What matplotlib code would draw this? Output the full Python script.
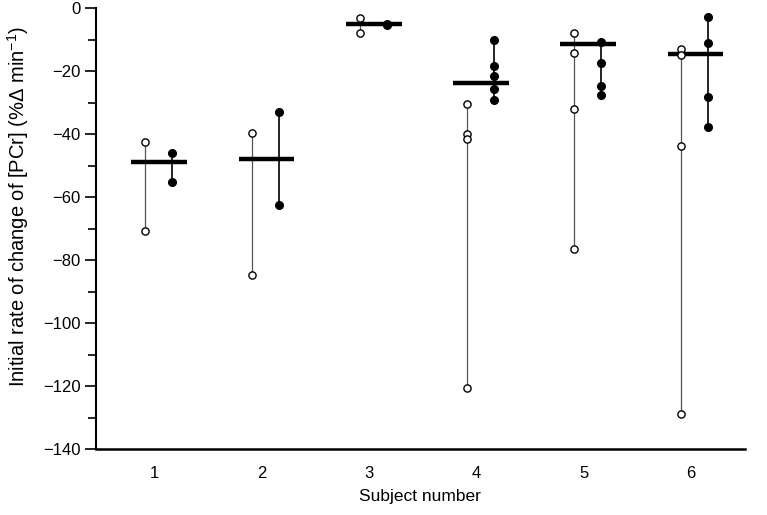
import matplotlib.pyplot as plt
from matplotlib.ticker import MultipleLocator

plt.rcParams['font.family'] = ['Liberation Sans', 'DejaVu Sans']
plt.rcParams['mathtext.fontset'] = 'custom'
plt.rcParams['mathtext.rm'] = 'Liberation Sans'

subjects = [1, 2, 3, 4, 5, 6]

# open circles
open_vals = [
    [-42.5, -70.8],
    [-39.7, -84.8],
    [-3, -8],
    [-30.5, -40, -41.6, -120.6],
    [-8, -14.3, -32, -76.5],
    [-12.8, -14.8, -43.8, -128.9],
]
# filled circles
filled_vals = [
    [-46, -55.2],
    [-33, -62.5],
    [-5, -5.3],
    [-10, -18.4, -21.6, -25.8, -29.2],
    [-10.8, -17.5, -24.6, -27.4],
    [-2.7, -11, -28.2, -37.7],
]
means = [-48.9, -48, -5, -23.8, -11.2, -14.4]

fig = plt.figure(figsize=(7.67, 5.15), dpi=100)
ax = fig.add_axes([0.125, 0.128, 0.846, 0.856])

off_open = -0.09
off_filled = 0.16

for s, ov, fv, m in zip(subjects, open_vals, filled_vals, means):
    xo = s + off_open
    xf = s + off_filled
    ax.plot([xo, xo], [min(ov), max(ov)], color='#555555', lw=0.9, zorder=1)
    ax.plot([xf, xf], [min(fv), max(fv)], color='black', lw=1.2, zorder=1)
    ax.plot([s - 0.22, s + 0.30], [m, m], color='black', lw=3.2,
            solid_capstyle='butt', zorder=2)
    ax.plot([xo] * len(ov), ov, 'o', ms=5.2, mfc='white', mec='black',
            mew=1.0, zorder=3)
    ax.plot([xf] * len(fv), fv, 'o', ms=5.5, mfc='black', mec='black',
            zorder=3)

ax.set_xlim(0.45, 6.5)
ax.set_ylim(-140, 0)
ax.set_xticks(subjects)
ax.yaxis.set_major_locator(MultipleLocator(20))
ax.yaxis.set_minor_locator(MultipleLocator(10))
ax.tick_params(axis='x', length=0, labelsize=12, pad=12)
ax.tick_params(axis='y', which='major', length=8, width=1.2, labelsize=12, pad=3)
ax.tick_params(axis='y', which='minor', length=6, width=1.2)

for side in ['top', 'right']:
    ax.spines[side].set_visible(False)
ax.spines['left'].set_linewidth(1.5)
ax.spines['bottom'].set_linewidth(1.8)

ax.set_xlabel('Subject number', fontsize=12.5, labelpad=6)
ax.set_ylabel('Initial rate of change of [PCr] (%\u0394 min$^{-1}$)',
              fontsize=14.5)
ax.yaxis.set_label_coords(-0.1, 0.55)

fig.savefig('out.png', dpi=100)
